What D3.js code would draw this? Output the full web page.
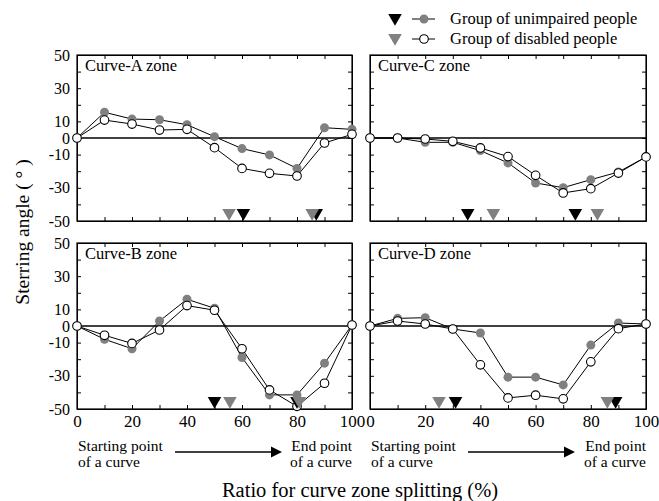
<!DOCTYPE html>
<html>
<head>
<meta charset="utf-8">
<script src="https://cdn.jsdelivr.net/npm/d3@7"></script>
<style>
  body { margin: 0; background: #fff; }
  text { font-family: "Liberation Serif", "Times New Roman", serif; fill: #000; }
</style>
</head>
<body>
<div id="container"></div>
<script>
const w = 659,
  h = 501;

// data
const ratio = [0, 10, 20, 30, 40, 50, 60, 70, 80, 90, 100];
const curveAUnimpaired = [0, 15.5, 11.4, 11, 8, 0.8, -6.4, -10.2, -18.3, 6.2, 5.2];
const curveADisabled = [0, 10.8, 8.4, 4.8, 5.2, -5.8, -18.3, -21.3, -22.9, -3, 2.2];
const curveCUnimpaired = [0, 0, -2.6, -2.6, -7.6, -15, -27.1, -29.9, -25.1, -20.5, -11.4];
const curveCDisabled = [0, 0, -0.6, -2, -6, -11.2, -22.5, -33.1, -30.5, -21.1, -11.4];
const curveBUnimpaired = [0, -8, -13.7, 3, 16.1, 10.7, -19, -41.5, -41.5, -22.4, 0.6];
const curveBDisabled = [0, -5.6, -10.5, -2.4, 12.3, 9.5, -13.7, -38.5, -48.4, -34.5, 0.6];
const curveDUnimpaired = [0, 4.6, 5, -1.8, -4.2, -30.8, -30.8, -35.5, -11.5, 1.8, 1.2];
const curveDDisabled = [0, 3, 1.2, -1.8, -23.4, -43.3, -41.7, -43.9, -21.6, -1.6, 1.2];

// triangle marks (x position, %)
const markAUnimpaired = [60.5, 87];
const markADisabled = [55.3, 85.5];
const markCUnimpaired = [35.4, 74.4];
const markCDisabled = [44.7, 82.4];
const markBUnimpaired = [50, 80];
const markBDisabled = [55.6, 80.8];
const markDUnimpaired = [31, 89];
const markDDisabled = [25, 86];

const yTickLabels = [50, 30, 10, 0, -10, -30, -50];
const xTickLabels = [0, 20, 40, 60, 80, 100];
const legendLabels = ['Group of unimpaired people', 'Group of disabled people'];

const grey = '#808080';

const panels = [
  { name: 'Curve-A zone', un: curveAUnimpaired, dis: curveADisabled, mUn: markAUnimpaired, mDis: markADisabled, col: 0, row: 0 },
  { name: 'Curve-C zone', un: curveCUnimpaired, dis: curveCDisabled, mUn: markCUnimpaired, mDis: markCDisabled, col: 1, row: 0 },
  { name: 'Curve-B zone', un: curveBUnimpaired, dis: curveBDisabled, mUn: markBUnimpaired, mDis: markBDisabled, col: 0, row: 1 },
  { name: 'Curve-D zone', un: curveDUnimpaired, dis: curveDDisabled, mUn: markDUnimpaired, mDis: markDDisabled, col: 1, row: 1 }
];

const colX = [[77, 352], [370, 646]];
const rowY = [[55, 221], [243, 409]];

const svg = d3.select('#container').append('svg').attr('width', w).attr('height', h);

const tri = d3.symbol().type(d3.symbolTriangle).size(80);

panels.forEach((p) => {
  const xScale = d3.scaleLinear().domain([0, 100]).range(colX[p.col]);
  const yScale = d3.scaleLinear().domain([-50, 50]).range([rowY[p.row][1], rowY[p.row][0]]);
  const g = svg.append('g');

  // axes with inward ticks
  const tickY = d3.range(-50, 51, 10);
  const tickX = d3.range(0, 101, 10);

  g.append('g')
    .attr('transform', 'translate(' + xScale(0) + ',0)')
    .call(d3.axisLeft(yScale).tickValues(tickY).tickSize(-4).tickSizeOuter(0).tickPadding(7)
      .tickFormat((d) => (p.col === 0 && yTickLabels.includes(d) ? d : '')))
    .call((a) => a.selectAll('text').style('font-size', '16px'));
  g.append('g')
    .attr('transform', 'translate(' + xScale(100) + ',0)')
    .call(d3.axisRight(yScale).tickValues(tickY).tickSize(-4).tickSizeOuter(0).tickFormat(''));
  g.append('g')
    .attr('transform', 'translate(0,' + yScale(50) + ')')
    .call(d3.axisTop(xScale).tickValues(tickX).tickSize(-4).tickSizeOuter(0).tickFormat(''));
  g.append('g')
    .attr('transform', 'translate(0,' + yScale(-50) + ')')
    .call(d3.axisBottom(xScale).tickValues(tickX).tickSize(-4).tickSizeOuter(0).tickPadding(6)
      .tickFormat((d) => (p.row === 1 && xTickLabels.includes(d) ? d : '')))
    .call((a) => a.selectAll('text').style('font-size', '17px'));

  g.selectAll('.domain').attr('stroke', '#000');
  g.selectAll('.tick line').attr('stroke', '#000');

  g.append('rect')
    .attr('x', xScale(0))
    .attr('y', yScale(50))
    .attr('width', xScale(100) - xScale(0))
    .attr('height', yScale(-50) - yScale(50))
    .attr('fill', 'none')
    .attr('stroke', '#000')
    .attr('stroke-width', 1.2);

  // zero line
  g.append('line')
    .attr('x1', xScale(0))
    .attr('x2', xScale(100))
    .attr('y1', yScale(0))
    .attr('y2', yScale(0))
    .attr('stroke', '#000')
    .attr('stroke-width', 1.5);

  g.append('text')
    .text(p.name)
    .attr('x', xScale(0) + 8)
    .attr('y', yScale(50) + 16)
    .style('font-size', '16.5px');

  const line = d3.line()
    .x((d, i) => xScale(ratio[i]))
    .y((d) => yScale(d));

  [p.un, p.dis].forEach((series) => {
    g.append('path')
      .attr('d', line(series))
      .attr('fill', 'none')
      .attr('stroke', '#000')
      .attr('stroke-width', 1);
  });

  g.selectAll('.dot-un')
    .data(p.un)
    .enter()
    .append('circle')
    .attr('cx', (d, i) => xScale(ratio[i]))
    .attr('cy', (d) => yScale(d))
    .attr('r', 4.5)
    .attr('fill', grey);

  g.selectAll('.dot-dis')
    .data(p.dis)
    .enter()
    .append('circle')
    .attr('cx', (d, i) => xScale(ratio[i]))
    .attr('cy', (d) => yScale(d))
    .attr('r', 4.3)
    .attr('fill', '#fff')
    .attr('stroke', '#000')
    .attr('stroke-width', 1.1);

  // down-pointing triangle marks at the bottom of the panel
  const markY = yScale(-50) - 8;
  [[p.mUn, '#000'], [p.mDis, grey]].forEach(([marks, color]) => {
    g.selectAll(null)
      .data(marks)
      .enter()
      .append('path')
      .attr('d', tri)
      .attr('transform', (d) => 'translate(' + xScale(d) + ',' + markY + ') rotate(180)')
      .attr('fill', color);
  });

  // bottom notes
  if (p.row === 1) {
    const x0 = xScale(0),
      x1 = xScale(100);
    g.append('text').text('Starting point').attr('x', x0 + 1).attr('y', 451).style('font-size', '15.5px');
    g.append('text').text('of a curve').attr('x', x0 + 1).attr('y', 467).style('font-size', '15.5px');
    g.append('text').text('End point').attr('x', x1).attr('y', 451).attr('text-anchor', 'end').style('font-size', '15.5px');
    g.append('text').text('of a curve').attr('x', x1).attr('y', 467).attr('text-anchor', 'end').style('font-size', '15.5px');
    const ax0 = x0 + 98,
      ax1 = x0 + 205;
    g.append('line')
      .attr('x1', ax0)
      .attr('x2', ax1 - 8)
      .attr('y1', 452)
      .attr('y2', 452)
      .attr('stroke', '#000')
      .attr('stroke-width', 1.6);
    g.append('path')
      .attr('d', 'M' + ax1 + ',452 L' + (ax1 - 11) + ',446.5 L' + (ax1 - 11) + ',457.5 Z')
      .attr('fill', '#000');
  }
});

// axis titles
svg
  .append('text')
  .text('Ratio for curve zone splitting (%)')
  .attr('x', 360)
  .attr('y', 497)
  .attr('text-anchor', 'middle')
  .style('font-size', '20.5px');

svg
  .append('text')
  .text('Sterring angle ( ° )')
  .attr('text-anchor', 'middle')
  .attr('transform', 'translate(29,232) rotate(-90)')
  .style('font-size', '19.5px');

// legend
const legend = svg.append('g');
legendLabels.forEach((label, i) => {
  const ly = 19 + i * 20;
  legend
    .append('path')
    .attr('d', tri)
    .attr('transform', 'translate(395,' + (ly - 1) + ') rotate(180)')
    .attr('fill', i === 0 ? '#000' : grey);
  legend
    .append('line')
    .attr('x1', 412)
    .attr('x2', 435)
    .attr('y1', ly)
    .attr('y2', ly)
    .attr('stroke', '#000')
    .attr('stroke-width', 1);
  legend
    .append('circle')
    .attr('cx', 424)
    .attr('cy', ly)
    .attr('r', i === 0 ? 4.5 : 4.3)
    .attr('fill', i === 0 ? grey : '#fff')
    .attr('stroke', i === 0 ? 'none' : '#000')
    .attr('stroke-width', 1.1);
  legend
    .append('text')
    .text(label)
    .attr('x', 450)
    .attr('y', ly + 5)
    .style('font-size', '16.5px');
});
</script>
</body>
</html>
